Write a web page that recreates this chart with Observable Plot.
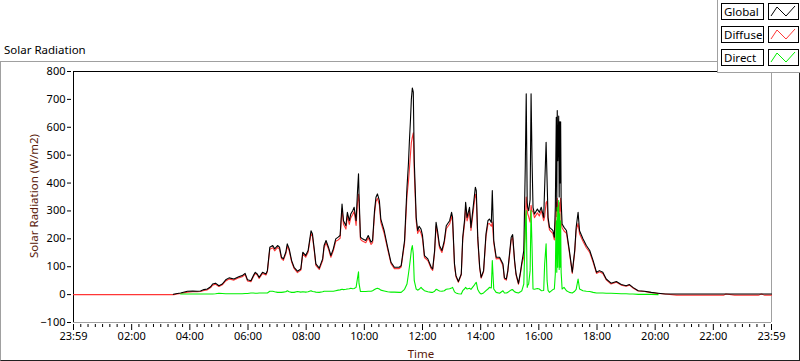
<!DOCTYPE html>
<html><head><meta charset="utf-8">
<script src="https://cdn.jsdelivr.net/npm/d3@7"></script>
<script src="https://cdn.jsdelivr.net/npm/@observablehq/plot@0.6"></script>
<style>
body{margin:0;background:#fff;}
#wrap{position:relative;width:800px;height:361px;overflow:hidden;font-family:"Noto Sans","Liberation Sans",Arial,sans-serif;color:#000;background:#fff;}
#chart{position:absolute;left:0;top:0;}
.panel{position:absolute;left:0;top:61px;width:800px;height:300px;box-sizing:border-box;border-top:1px solid #a0a0a0;border-left:1px solid #a0a0a0;border-right:1px solid #202020;border-bottom:1px solid #202020;pointer-events:none;}
.title{position:absolute;left:4px;top:42px;font-size:11.5px;white-space:nowrap;}
.ylab{position:absolute;left:33px;top:196px;font-size:11.5px;color:#5a1a0a;white-space:nowrap;transform:translate(-50%,-50%) rotate(-90deg);}
.xlab{position:absolute;left:421px;top:353px;font-size:11.5px;color:#5a1a0a;white-space:nowrap;transform:translate(-50%,-50%);}
.legend{position:absolute;left:717px;top:0;width:83px;height:73px;box-sizing:border-box;background:#fff;border-left:1px solid #a0a0a0;border-bottom:1px solid #a0a0a0;}
.lbox{position:absolute;left:3px;width:43px;height:17px;box-sizing:border-box;border:1px solid #000;font-size:11.5px;line-height:15px;padding-left:2px;white-space:nowrap;}
.sw{position:absolute;left:50px;width:31px;height:17px;box-sizing:border-box;border:1px solid #000;}
.sw svg{position:absolute;left:0;top:0;}
</style>
</head><body>
<div id="wrap">
  <div id="chart"></div>
  <div class="panel"></div>
  <div class="title">Solar Radiation</div>
  <div class="ylab">Solar Radiation (W/m2)</div>
  <div class="xlab">Time</div>
  <div class="legend" id="legend"></div>
</div>
<script>
// ---- data (minutes after midnight; -1 = 23:59 of the previous day) ----
const minutes = [
  -1,200,205,210,220,234,245,254,261,268,
  275,282,286,292,299,306,313,320,330,341,
  347,353,358,365,370,374,378,382,389,396,
  399,404,410,414,420,424,428,432,437,440,
  444,449,454,461,468,472,478,483,489,492,
  496,499,506,513,516,520,525,530,535,540,
  545,549,553,556,561,564,568,571,575,578,
  582,585,587,588,591,595,602,607,613,616,
  620,623,626,630,633,640,647,654,661,671,
  675,682,687,690,692,694,696,698,700,702,
  706,709,712,716,719,723,730,737,740,744,
  747,750,754,759,764,768,775,779,781,785,
  788,793,799,802,806,808,811,816,819,825,
  828,830,833,837,840,845,850,854,857,861,
  863,866,871,878,885,888,892,895,902,905,
  909,912,917,921,924,928,931,933,935,936,
  938,941,943,945,947,950,956,960,964,969,
  971,974,976,978,981,988,991,993,994,995,
  996,997,998,999,1000,1001,1002,1003,1004,1005,
  1007,1011,1016,1022,1028,1033,1036,1040,1043,1050,
  1057,1064,1071,1078,1084,1091,1098,1108,1119,1129,
  1139,1146,1153,1164,1177,1191,1205,1220,1243,1340,
  1345,1363,1412,1418,1425,1439
];
const globalW = [
  null,null,1,3,6,12,13,12,13,18,
  20,28,38,41,32,38,53,60,56,65,
  68,76,53,50,68,80,74,62,80,74,
  86,170,176,164,176,170,134,128,152,182,
  164,122,98,84,92,152,140,158,229,217,
  158,110,95,128,176,194,170,140,164,200,
  206,212,325,265,247,295,265,289,301,313,
  265,373,433,361,206,200,194,212,188,194,
  301,349,361,337,271,229,170,116,98,98,
  104,194,385,470,552,620,700,741,726,480,
  277,230,245,235,212,140,128,98,92,158,
  259,229,176,158,194,247,265,295,277,110,
  68,47,74,206,271,331,277,313,241,337,
  385,373,206,98,62,86,218,265,271,259,
  373,194,134,134,110,60,56,86,206,215,
  122,74,40,80,116,158,457,720,330,313,
  301,340,720,480,313,289,307,295,313,277,
  385,546,409,277,241,230,206,313,480,636,
  300,660,480,560,640,350,620,400,620,337,
  253,241,230,158,80,158,241,295,229,200,
  176,158,122,80,86,80,56,41,47,36,
  32,36,26,14,12,8,5,2,2,2,
  2,2,2,2,2,2
];
const diffuseW = [
  0,0,0,1,4,9,10,10,11,15,
  17,25,34,37,29,35,49,56,52,61,
  64,72,49,46,64,76,70,58,76,70,
  82,163,168,157,169,163,129,123,146,173,
  157,117,94,79,88,146,134,152,219,208,
  152,105,90,122,168,186,163,134,157,191,
  196,202,308,252,235,281,252,275,287,298,
  248,330,360,335,198,192,186,204,180,186,
  288,334,345,322,259,219,163,111,93,93,
  99,184,355,405,450,500,545,565,580,440,
  262,219,233,220,200,133,122,93,87,151,
  246,218,168,151,185,236,253,281,262,105,
  64,44,71,196,258,315,264,298,230,318,
  360,345,196,93,59,82,208,253,255,245,
  260,185,128,130,103,56,52,82,196,205,
  116,70,37,75,109,135,240,350,310,290,
  280,260,320,300,298,276,293,282,302,265,
  280,330,335,265,232,219,196,250,270,330,
  280,345,300,320,310,290,330,300,345,257,
  240,228,220,151,76,151,230,255,218,191,
  168,151,116,76,82,76,53,38,44,34,
  30,34,24,13,11,7,4,2,-2,-2,
  2,-2,-2,2,-2,-2
];
const directW = [
  null,null,null,null,2,2,2,2,2,2,
  2,2,2,3,5,4,3,3,3,3,
  3,4,4,6,6,5,5,6,6,6,
  6,12,12,10,8,8,8,9,10,14,
  10,8,8,11,9,10,9,10,14,11,
  10,9,8,10,12,12,12,12,12,14,
  16,17,19,18,19,20,21,23,21,22,
  26,60,82,40,11,11,11,12,12,14,
  18,21,23,20,16,13,10,9,9,8,
  8,19,38,74,100,128,160,176,146,50,
  20,16,19,26,20,14,10,8,8,12,
  19,17,13,12,14,19,21,24,26,10,
  6,3,2,14,21,26,20,23,19,32,
  40,44,18,6,2,6,14,20,26,24,
  122,20,8,5,14,6,6,8,17,18,
  10,8,6,10,14,38,230,301,26,33,
  38,86,301,170,20,19,22,20,14,15,
  110,182,50,15,8,18,20,74,200,265,
  80,313,98,200,337,90,290,98,265,80,
  20,26,14,8,6,12,19,56,20,14,
  12,11,8,6,6,6,5,5,4,3,
  3,2,2,1,1,1,0,null,null,null,
  null,null,null,null,null,null
];
const seriesNames = ["Global", "Diffuse", "Direct"];
const seriesColors = ["#000000", "#ff3636", "#00f000"];
const xDomain = [-1, 1439];
const yDomain = [-100, 800];
const xTickValues = [-1,119,239,359,479,599,719,839,959,1079,1199,1319,1439];
const xTickLabels = ["23:59","02:00","04:00","06:00","08:00","10:00","12:00","14:00","16:00","18:00","20:00","22:00","23:59"];
const yTickValues = [-100,0,100,200,300,400,500,600,700,800];

const rows = minutes.map((m, i) => ({m, g: globalW[i], d: diffuseW[i], r: directW[i]}));
const labelOf = new Map(xTickValues.map((v, i) => [v, xTickLabels[i]]));
const minorTicks = d3.range(xDomain[0] + 15, xDomain[1], 15).filter(v => !labelOf.has(v));

const chart = Plot.plot({
  width: 800, height: 361,
  marginLeft: 73, marginRight: 29, marginTop: 71, marginBottom: 39,
  x: {domain: xDomain},
  y: {domain: yDomain},
  style: {fontFamily: "'Noto Sans', 'Liberation Sans', Arial, sans-serif", fontSize: "11px", background: "transparent", color: "#000"},
  marks: [
    Plot.axisY({ticks: yTickValues, tickSize: 4, tickPadding: 2, dx: -2, label: null, fontSize: 11}),
    Plot.axisX({ticks: xTickValues, tickFormat: d => labelOf.get(d), tickSize: 6, tickPadding: 2, dy: 2, label: null, fontSize: 11}),
    Plot.axisX({ticks: minorTicks, tickFormat: () => "", tickSize: 3, dy: 2, label: null}),
    Plot.ruleX([xDomain[1]], {stroke: "#a0a0a0"}),
    Plot.ruleY([yDomain[0]], {stroke: "#a0a0a0"}),
    Plot.ruleX([xDomain[0]], {stroke: "#000"}),
    Plot.ruleY([yDomain[1]], {stroke: "#000"}),
    Plot.line(rows, {x: "m", y: "d", stroke: seriesColors[1], strokeWidth: 1.1}),
    Plot.line(rows, {x: "m", y: "g", stroke: seriesColors[0], strokeWidth: 1.1}),
    Plot.line(rows, {x: "m", y: "r", stroke: seriesColors[2], strokeWidth: 1.1})
  ]
});
document.getElementById("chart").appendChild(chart);

// legend
const leg = document.getElementById("legend");
const tops = [3, 26, 49];
seriesNames.forEach((name, i) => {
  const b = document.createElement("div");
  b.className = "lbox"; b.style.top = tops[i] + "px"; b.textContent = name;
  leg.appendChild(b);
  const s = document.createElement("div");
  s.className = "sw"; s.style.top = tops[i] + "px";
  s.innerHTML = `<svg width="29" height="15"><polyline points="2,12 8,3 17,12 26,2" fill="none" stroke="${seriesColors[i]}" stroke-width="1"/></svg>`;
  leg.appendChild(s);
});
</script>
</body></html>
